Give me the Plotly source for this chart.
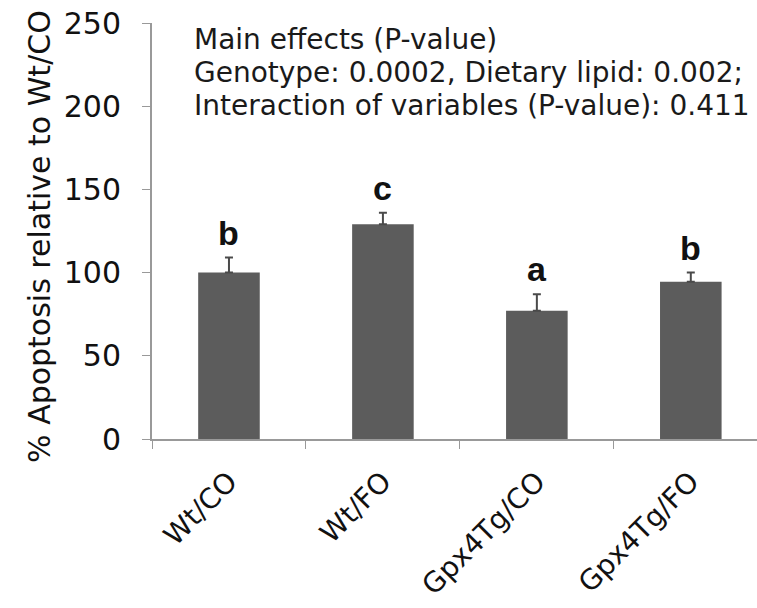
import plotly.graph_objects as go

categories = ["Wt/CO", "Wt/FO", "Gpx4Tg/CO", "Gpx4Tg/FO"]
means = [100, 129, 77, 94.5]
errors = [9, 7, 10, 5.5]
letters = ["b", "c", "a", "b"]
y_ticks = [0, 50, 100, 150, 200, 250]
notes = ["Main effects (P-value)",
         "Genotype: 0.0002, Dietary lipid: 0.002;",
         "Interaction of variables (P-value): 0.411"]
y_title = "% Apoptosis relative to Wt/CO"

axis_col = "#999999"
fig = go.Figure()
fig.add_trace(go.Bar(
    x=categories, y=means, width=0.4,
    marker=dict(color="#5c5c5c", line=dict(width=0)),
    error_y=dict(type="data", array=errors, arrayminus=[0]*len(errors),
                 symmetric=False, color="#4a4a4a", thickness=2, width=4),
))
for c, m, e, l in zip(categories, means, errors, letters):
    fig.add_annotation(x=c, y=m + e, text="<b>%s</b>" % l, showarrow=False,
                       yanchor="bottom", yshift=4,
                       font=dict(family="Liberation Sans Narrow, Liberation Sans", size=34, color="#111"))
for i, t in enumerate(notes):
    fig.add_annotation(xref="paper", yref="paper", x=0.066, y=1.0, yshift=-16 - 33*i,
                       xanchor="left", yanchor="middle", text=t, showarrow=False,
                       font=dict(family="DejaVu Sans", size=28, color="#1a1a1a"))
fig.add_annotation(xref="paper", yref="paper", x=-0.185, y=0.486, textangle=-90,
                   xanchor="center", yanchor="middle", text=y_title, showarrow=False,
                   font=dict(family="DejaVu Sans", size=30, color="#111"))

fig.update_layout(
    width=757, height=608,
    margin=dict(l=152, r=0, t=23, b=169),
    plot_bgcolor="white", paper_bgcolor="white",
    showlegend=False,
    xaxis=dict(type="category", tickson="boundaries", ticks="outside", ticklen=8,
               tickcolor=axis_col, showline=True, linecolor=axis_col, linewidth=2,
               tickangle=-45, ticklabelstandoff=13, automargin=False,
               tickfont=dict(family="DejaVu Sans", size=28, color="#111"),
               showgrid=False, range=[-0.5, 3.43]),
    yaxis=dict(range=[0, 250], tickvals=y_ticks, ticks="outside", ticklen=8,
               tickcolor=axis_col, showline=True, linecolor=axis_col, linewidth=2,
               showgrid=False, zeroline=False, ticklabelstandoff=15, automargin=False,
               tickfont=dict(family="DejaVu Sans", size=30, color="#111")),
)
fig.write_html("out.html")
